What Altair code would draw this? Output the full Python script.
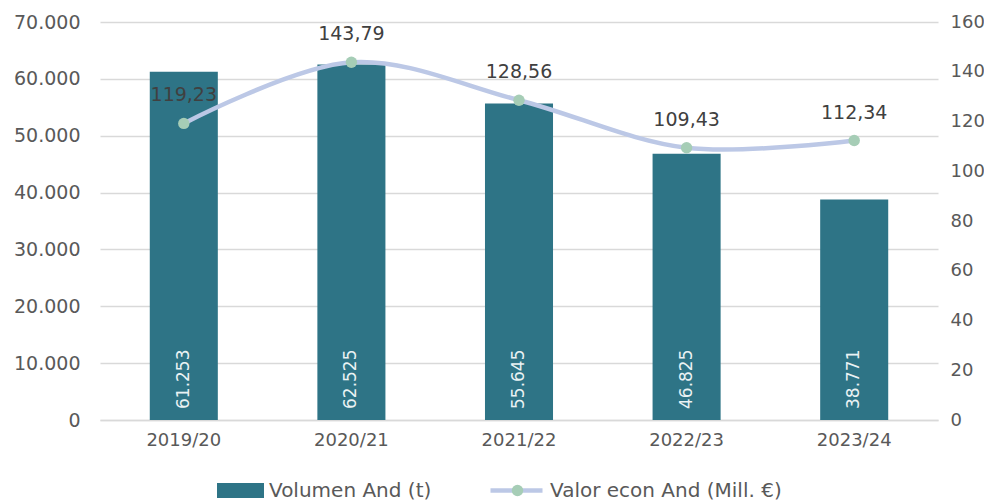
import altair as alt
import pandas as pd

campanas = ["2019/20", "2020/21", "2021/22", "2022/23", "2023/24"]
volumen = [61253, 62525, 55645, 46825, 38771]
valor = [119.23, 143.79, 128.56, 109.43, 112.34]

SERIE_VOL = "Volumen And (t)"
SERIE_VAL = "Valor econ And (Mill. €)"

df = pd.DataFrame({
    "campana": campanas,
    "volumen": volumen,
    "valor": valor,
    "s_vol": SERIE_VOL,
    "s_val": SERIE_VAL,
})

FONT = "DejaVu Sans"
BAR_COLOR = "#2E7486"
LINE_COLOR = "#BCC8E6"
POINT_COLOR = "#A6CDB6"
AX_COLOR = "#595959"

x = alt.X("campana:N", sort=campanas, title=None,
          scale=alt.Scale(paddingInner=0.594, paddingOuter=0.297),
          axis=alt.Axis(labelAngle=0, ticks=False, domain=True, domainColor="#D9D9D9",
                        domainWidth=1.5))

y_left = alt.Y("volumen:Q", title=None,
               scale=alt.Scale(domain=[0, 70000], nice=False),
               axis=alt.Axis(values=[0, 10000, 20000, 30000, 40000, 50000, 60000, 70000],
                             labelExpr="replace(format(datum.value, ','), ',', '.')",
                             ticks=False, domain=False, grid=True, gridColor="#D9D9D9",
                             gridWidth=1.5, labelPadding=20, labelFontSize=19,
                             labelColor=AX_COLOR, labelFont=FONT, orient="left"))

bars = alt.Chart(df).mark_bar(color=BAR_COLOR).encode(
    x=x,
    y=y_left,
    fill=alt.Fill("s_vol:N", title=None,
                  scale=alt.Scale(range=[BAR_COLOR]),
                  legend=alt.Legend(orient="none", legendX=117, legendY=445,
                                    symbolType="M-1,-0.32H1V0.32H-1Z", symbolSize=2209,
                                    symbolStrokeWidth=0, labelFontSize=20, labelFont=FONT,
                                    labelColor=AX_COLOR, labelOffset=5, labelLimit=500)),
)

bar_labels = alt.Chart(df).mark_text(
    angle=270, align="left", baseline="middle", dx=11, color="#EAF2F4",
    fontSize=17, font=FONT,
).transform_calculate(
    lab="replace(format(datum.volumen, ','), ',', '.')"
).encode(
    x=alt.X("campana:N", sort=campanas),
    y=alt.datum(0),
    text="lab:N",
)

left = alt.layer(bars, bar_labels)

y_right = alt.Y("valor:Q", title=None,
                scale=alt.Scale(domain=[0, 160], nice=False),
                axis=alt.Axis(values=[0, 20, 40, 60, 80, 100, 120, 140, 160],
                              ticks=False, domain=False, grid=False, labelPadding=12,
                              labelFontSize=18, labelColor=AX_COLOR, labelFont=FONT,
                              orient="right"))

line = alt.Chart(df).mark_line(interpolate="catmull-rom", strokeWidth=4.5,
                               strokeCap="round").encode(
    x=alt.X("campana:N", sort=campanas),
    y=y_right,
    stroke=alt.Stroke("s_val:N", title=None,
                      scale=alt.Scale(range=[LINE_COLOR]),
                      legend=alt.Legend(orient="none", legendX=388, legendY=440,
                                        symbolType="stroke", symbolSize=2704,
                                        symbolStrokeWidth=4.5, labelFontSize=20,
                                        labelFont=FONT, labelColor=AX_COLOR,
                                        labelOffset=5, labelLimit=500)),
)

points = alt.Chart(df).mark_point(filled=True, size=130, opacity=1).encode(
    x=alt.X("campana:N", sort=campanas),
    y=alt.Y("valor:Q"),
    color=alt.value(POINT_COLOR),
    shape=alt.Shape("s_val:N", title=None,
                    scale=alt.Scale(range=["circle"]),
                    legend=alt.Legend(orient="none", legendX=408, legendY=459,
                                      symbolSize=130, symbolFillColor=POINT_COLOR,
                                      symbolStrokeWidth=0, symbolOpacity=1,
                                      labelExpr="''", labelFontSize=19)),
)

line_labels = alt.Chart(df).mark_text(
    baseline="middle", align="center", dy=-28, color="#404040", fontSize=19, font=FONT,
).transform_calculate(
    lab="replace(format(datum.valor, '.2f'), '.', ',')"
).encode(
    x=alt.X("campana:N", sort=campanas),
    y=alt.Y("valor:Q"),
    text="lab:N",
)

right = alt.layer(line, points, line_labels)

chart = alt.layer(left, right).resolve_scale(y="independent").properties(
    width=838, height=398,
    autosize=alt.AutoSizeParams(type="none"),
    padding={"left": 92, "top": 14, "right": 46, "bottom": 80},
).configure_view(stroke=None).configure_axisX(
    labelFontSize=18, labelFont=FONT, labelColor=AX_COLOR, labelPadding=11
)

chart.save("out.html", embed_options={"renderer": "svg", "actions": False})
